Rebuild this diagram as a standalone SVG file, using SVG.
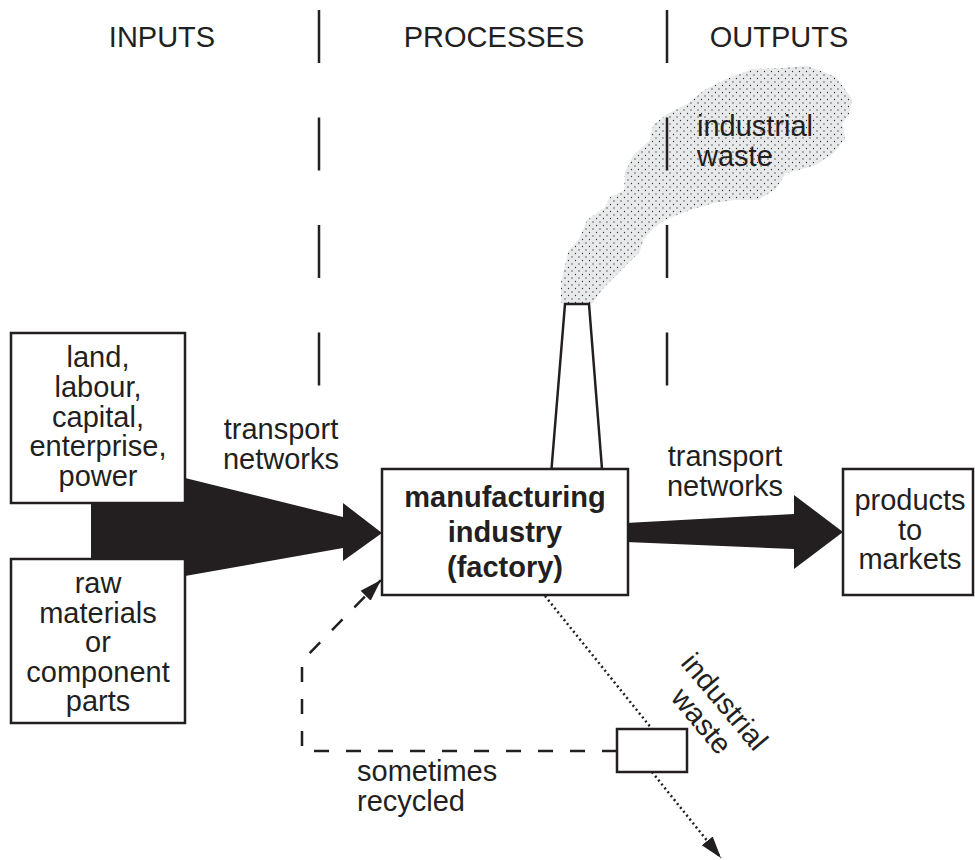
<svg xmlns="http://www.w3.org/2000/svg" width="975" height="860" viewBox="0 0 975 860">
<style>
text{font-family:"Liberation Sans",Arial,Helvetica,sans-serif;font-size:29px;fill:#231f20}
.c{text-anchor:middle}
.b{font-weight:bold}
.box{fill:#fff;stroke:#231f20;stroke-width:2.5}
.div{stroke:#231f20;stroke-width:2.5;stroke-dasharray:53 54.5;fill:none}
.solid{fill:#231f20;stroke:none}
.dash{fill:none;stroke:#231f20;stroke-width:2.5;stroke-dasharray:15 17}
.dot{fill:none;stroke:#231f20;stroke-width:2.5;stroke-dasharray:2 3}
</style>
<defs>
<pattern id="stip" width="7" height="7" patternUnits="userSpaceOnUse">
<rect width="7" height="7" fill="#e8e9ea"/>
<circle cx="1.5" cy="1.5" r="0.65" fill="#333"/>
<circle cx="5" cy="5" r="0.65" fill="#333"/>
</pattern>
<marker id="ah" viewBox="0 0 22 16" refX="22" refY="8" markerWidth="22" markerHeight="16" markerUnits="userSpaceOnUse" orient="auto">
<path d="M0,1 L22,8 L0,15 z" fill="#231f20"/>
</marker>
</defs>
<rect width="975" height="860" fill="#fff"/>

<g id="headers">
<text class="c" x="162" y="47">INPUTS</text>
<text class="c" x="494" y="47">PROCESSES</text>
<text class="c" x="779" y="47">OUTPUTS</text>
</g>

<g id="smoke">
<polygon fill="url(#stip)" stroke="url(#stip)" stroke-width="8" stroke-linejoin="round" points="565,300 565,283 572,253 583,240 590,223 608,210 613,200 628,193 629,173 637,157 653,143 657,127 670,117 690,107 707,93 727,83 753,73 780,72 807,70 833,80 848,100 845,113 838,123 841,137 831,150 813,162 783,170 773,186 757,196 733,196 713,199 690,206 663,216 650,226 640,237 636,250 627,259 620,266 610,276 600,286 590,300"/>
<text x="697" y="136">industrial</text>
<text x="697" y="166">waste</text>
</g>

<g id="dividers">
<line class="div" x1="319" y1="10" x2="319" y2="386"/>
<line class="div" x1="667" y1="10" x2="667" y2="386"/>
</g>

<g id="connectors">
<rect class="solid" x="91" y="500" width="96" height="62"/>
<polygon class="solid" points="185,478 343,517 343,503 382,533 343,561 343,548 185,576"/>
<polygon class="solid" points="626,523 794,514 794,495 843,532 794,569 794,549 626,542"/>
<path class="dash" d="M617,751 H302 V661 L381,580" marker-end="url(#ah)"/>
<line class="dot" x1="545" y1="596" x2="652" y2="729"/>
<line class="dot" x1="652" y1="772" x2="721" y2="858" marker-end="url(#ah)"/>
<g id="label-transport-in">
<text class="c" x="281" y="439">transport</text>
<text class="c" x="281" y="469">networks</text>
</g>
<g id="label-transport-out">
<text class="c" x="725" y="466">transport</text>
<text class="c" x="725" y="496">networks</text>
</g>
<g id="label-recycled">
<text x="357" y="781">sometimes</text>
<text x="357" y="811">recycled</text>
</g>
<g id="label-waste" transform="translate(717,708) rotate(50)">
<text class="c" x="0" y="0">industrial</text>
<text class="c" x="0" y="30">waste</text>
</g>
</g>

<g id="node-factors">
<rect class="box" x="11" y="333" width="174" height="170"/>
<text class="c" x="98" y="367">land,</text>
<text class="c" x="98" y="397">labour,</text>
<text class="c" x="98" y="426.5">capital,</text>
<text class="c" x="98" y="456">enterprise,</text>
<text class="c" x="98" y="485.5">power</text>
</g>

<g id="node-materials">
<rect class="box" x="11" y="559" width="174" height="164"/>
<text class="c" x="98" y="593">raw</text>
<text class="c" x="98" y="622.5">materials</text>
<text class="c" x="98" y="652">or</text>
<text class="c" x="98" y="681.5">component</text>
<text class="c" x="98" y="711">parts</text>
</g>

<g id="node-chimney">
<polygon class="box" points="551.5,469 565,304 589,304 602,469"/>
</g>

<g id="node-factory">
<rect class="box" x="382" y="469" width="246" height="126"/>
<text class="c b" x="505" y="507">manufacturing</text>
<text class="c b" x="505" y="542">industry</text>
<text class="c b" x="505" y="577">(factory)</text>
</g>

<g id="node-markets">
<rect class="box" x="843" y="469" width="130" height="126"/>
<text class="c" x="910" y="510">products</text>
<text class="c" x="910" y="539.5">to</text>
<text class="c" x="910" y="569">markets</text>
</g>

<g id="node-waste-box">
<rect class="box" x="617" y="729" width="70" height="43"/>
</g>
</svg>
